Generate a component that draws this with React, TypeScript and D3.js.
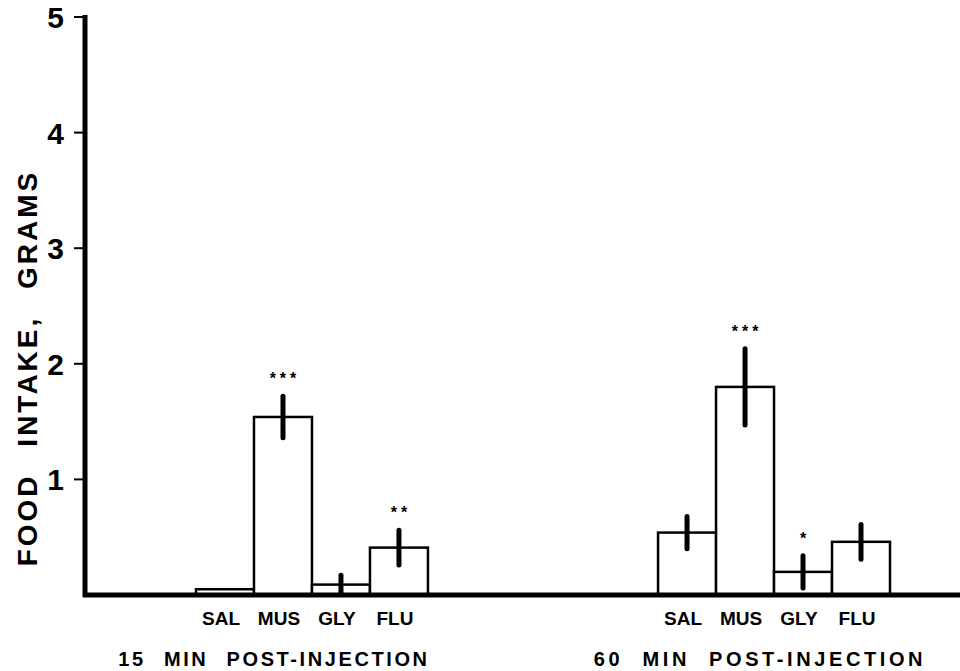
import React from "react";
import * as d3 from "d3";

const groups = ["15 MIN POST-INJECTION", "60 MIN POST-INJECTION"];
const drugs = ["SAL", "MUS", "GLY", "FLU"];
const means15 = [0.05, 1.54, 0.09, 0.41];
const errs15 = [0, 0.18, 0.08, 0.15];
const stars15 = ["", "***", "", "**"];
const means60 = [0.54, 1.8, 0.2, 0.46];
const errs60 = [0.14, 0.33, 0.14, 0.15];
const stars60 = ["", "***", "*", ""];
const yTicks = [1, 2, 3, 4, 5];
const yLabel = "FOOD INTAKE,  GRAMS";

const W = 960;
const H = 671;
const axisX = 85;
const baseY = 595;

const App = () => {
  const y = d3.scaleLinear().domain([0, 5]).range([baseY, 17]);
  const xGroup = d3.scaleBand().domain(groups).range([196, 890]).paddingInner(0.498);
  const xDrug = d3.scaleBand().domain(drugs).range([0, xGroup.bandwidth()]).padding(0);

  const sets = [
    { g: groups[0], means: means15, errs: errs15, stars: stars15 },
    { g: groups[1], means: means60, errs: errs60, stars: stars60 },
  ];

  // the hand lettering sits a little left of the bars
  const titleShift = [-38, -14];
  const titleSpacing = [2.6, 3.6];

  const font = "'Liberation Sans', Arial, sans-serif";

  return (
    <svg
      width={W}
      height={H}
      viewBox={`0 0 ${W} ${H}`}
      style={{ position: "absolute", left: 0, top: 0, background: "#fff" }}
    >
      <rect width={W} height={H} fill="#fff" />

      {/* bars, error bars, stars */}
      {sets.map((s) =>
        drugs.map((d, i) => {
          const x0 = (xGroup(s.g) ?? 0) + (xDrug(d) ?? 0);
          const cx = x0 + xDrug.bandwidth() / 2;
          const m = s.means[i];
          const e = s.errs[i];
          return (
            <g key={s.g + d}>
              <rect
                x={x0}
                y={y(m)}
                width={xDrug.bandwidth()}
                height={baseY - y(m)}
                fill="#fff"
                stroke="#000"
                strokeWidth={2.5}
              />
              {e > 0 && (
                <line
                  x1={cx}
                  x2={cx}
                  y1={y(m + e)}
                  y2={Math.min(y(m - e), baseY)}
                  stroke="#000"
                  strokeWidth={5}
                  strokeLinecap="round"
                />
              )}
              {s.stars[i] && (
                <text
                  x={cx + 2}
                  y={y(m + e) - 12}
                  textAnchor="middle"
                  fontFamily={font}
                  fontWeight="bold"
                  fontSize={16}
                  letterSpacing={4}
                >
                  {s.stars[i]}
                </text>
              )}
              <text
                x={cx - 4}
                y={625}
                textAnchor="middle"
                fontFamily={font}
                fontWeight="bold"
                fontSize={19}
              >
                {d}
              </text>
            </g>
          );
        })
      )}

      {/* group labels */}
      {groups.map((g, i) => (
        <text
          key={g}
          x={(xGroup(g) ?? 0) + xGroup.bandwidth() / 2 + titleShift[i]}
          y={666}
          textAnchor="middle"
          fontFamily={font}
          fontWeight="bold"
          fontSize={20}
          letterSpacing={titleSpacing[i]}
          wordSpacing={10}
        >
          {g}
        </text>
      ))}

      {/* axes */}
      <line x1={axisX} x2={axisX} y1={15} y2={baseY + 2} stroke="#000" strokeWidth={5} />
      <line x1={axisX - 2} x2={W} y1={baseY} y2={baseY} stroke="#000" strokeWidth={5} />
      {yTicks.map((t) => (
        <g key={t}>
          <line x1={74} x2={axisX} y1={y(t)} y2={y(t)} stroke="#000" strokeWidth={2} />
          <text
            x={64}
            y={y(t) + 11}
            textAnchor="end"
            fontFamily={font}
            fontWeight="bold"
            fontSize={30}
          >
            {t}
          </text>
        </g>
      ))}

      <text
        transform={`translate(37, ${368}) rotate(-90)`}
        textAnchor="middle"
        fontFamily={font}
        fontWeight="bold"
        fontSize={28}
        letterSpacing={3}
        wordSpacing={16}
      >
        {yLabel}
      </text>
    </svg>
  );
};

export default App;
